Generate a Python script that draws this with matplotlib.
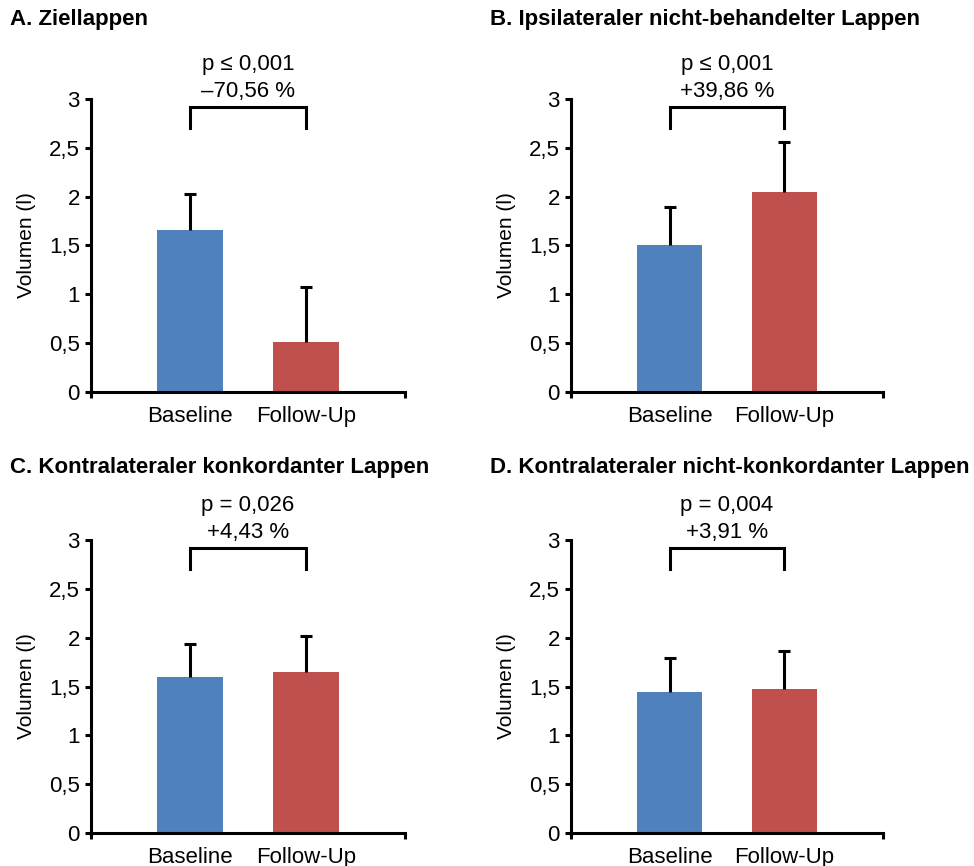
import matplotlib
matplotlib.use("Agg")
import matplotlib.pyplot as plt

plt.rcParams['font.family'] = ['Liberation Sans', 'DejaVu Sans']

categories = ["Baseline", "Follow-Up"]
titles = ["A. Ziellappen",
          "B. Ipsilateraler nicht-behandelter Lappen",
          "C. Kontralateraler konkordanter Lappen",
          "D. Kontralateraler nicht-konkordanter Lappen"]
means = [[1.66, 0.51],
         [1.50, 2.05],
         [1.60, 1.65],
         [1.44, 1.47]]
sd_upper = [[0.37, 0.57],
            [0.39, 0.51],
            [0.34, 0.37],
            [0.35, 0.39]]
p_texts = ["p \u2264 0,001", "p \u2264 0,001", "p = 0,026", "p = 0,004"]
change_texts = ["\u201370,56 %", "+39,86 %", "+4,43 %", "+3,91 %"]
yticks = [0, 0.5, 1, 1.5, 2, 2.5, 3]
ytick_labels = ["0", "0,5", "1", "1,5", "2", "2,5", "3"]
bar_colors = ["#4F81BD", "#C0504D"]

W, H = 974, 866
fig = plt.figure(figsize=(W / 100, H / 100), dpi=100)

# axes boxes in pixels: left, right, top, bottom
boxes = [(91, 405, 99, 392), (571, 883, 99, 392),
         (91, 405, 540, 833), (571, 883, 540, 833)]
title_pos = [(10, 19), (490, 19), (10, 467), (490, 467)]

lw = 2.2
fs = 16
for i in range(4):
    l, r, t, b = boxes[i]
    ax = fig.add_axes([l / W, (H - b) / H, (r - l) / W, (b - t) / H])
    x = [0, 1]
    ax.bar(x, means[i], width=0.57, color=bar_colors, zorder=2)
    tops = [m + s for m, s in zip(means[i], sd_upper[i])]
    ax.vlines(x, means[i], tops, color='black', lw=lw, zorder=3)
    ax.plot(x, tops, linestyle='none', marker='_', markersize=9,
            markeredgewidth=lw, color='black', zorder=3)
    ax.set_xlim(-0.86, 1.86)
    ax.set_ylim(0, 3)
    for s in ['top', 'right']:
        ax.spines[s].set_visible(False)
    for s in ['left', 'bottom']:
        ax.spines[s].set_linewidth(lw)
    ax.set_yticks(yticks)
    ax.set_yticklabels(ytick_labels, fontsize=fs)
    ax.tick_params(axis='y', direction='out', length=4, width=lw, pad=4)
    ax.set_xticks([-0.86, 1.86])
    ax.set_xticklabels(["", ""])
    ax.tick_params(axis='x', which='major', direction='out', length=4, width=lw)
    ax.set_xticks(x, minor=True)
    ax.set_xticklabels(categories, minor=True, fontsize=fs)
    ax.tick_params(axis='x', which='minor', length=0, pad=21.5)
    for lab in ax.xaxis.get_minorticklabels():
        lab.set_verticalalignment('baseline')
    ax.set_ylabel("Volumen (l)", fontsize=15)
    ax.yaxis.set_label_coords(-0.175, 0.5)

    # significance bracket
    ax.plot([0, 0, 1, 1], [2.70, 2.92, 2.92, 2.70], color='black', lw=lw,
            clip_on=False, solid_joinstyle='miter', zorder=3)
    ax.text(0.5, 3.35, p_texts[i], ha='center', va='center', fontsize=fs, clip_on=False)
    ax.text(0.5, 3.08, change_texts[i], ha='center', va='center', fontsize=fs, clip_on=False)

    tx, ty = title_pos[i]
    fig.text(tx / W, 1 - ty / H, titles[i], fontsize=16, fontweight='bold',
             ha='left', va='center')

fig.savefig("out.png", dpi=100)
